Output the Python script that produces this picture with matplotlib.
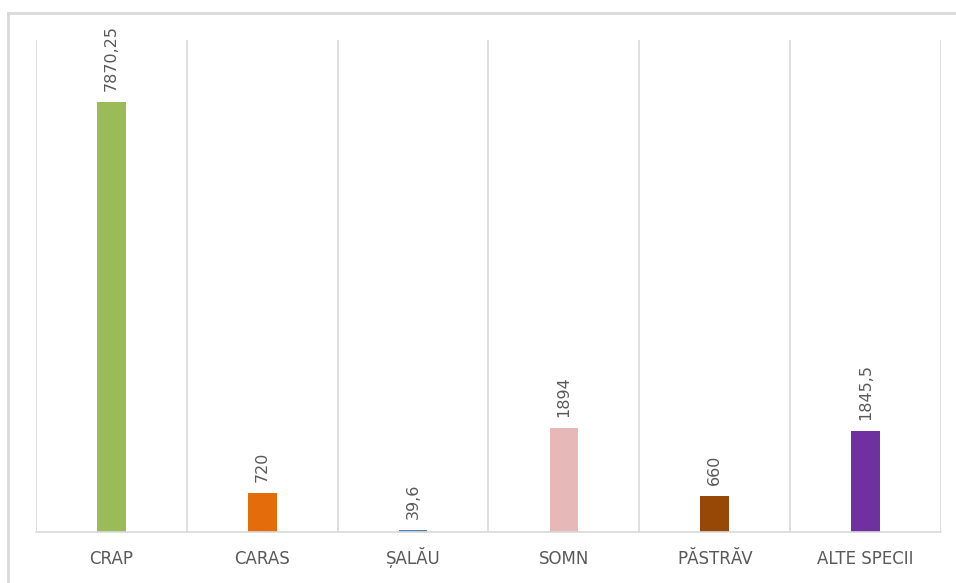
import matplotlib.pyplot as plt
from matplotlib.lines import Line2D
import numpy as np

categories = ['CRAP', 'CARAS', 'ȘALĂU', 'SOMN', 'PĂSTRĂV', 'ALTE SPECII']
values = [7870.25, 720, 39.6, 1894, 660, 1845.5]
value_labels = ['7870,25', '720', '39,6', '1894', '660', '1845,5']
colors = ['#9BBB59', '#E46C0A', '#4F81BD', '#E6B9B8', '#974706', '#7030A0']

fig = plt.figure(figsize=(9.56, 5.83), dpi=100)
ax = fig.add_axes([36/956, 1 - 532/583, (941 - 36)/956, (532 - 40)/583])

x = np.arange(len(categories))
bars = ax.bar(x, values, width=0.19, color=colors)

for rect, lab in zip(bars, value_labels):
    ax.annotate(lab, xy=(rect.get_x() + rect.get_width()/2, rect.get_height()),
                xytext=(0, 8), textcoords='offset points',
                ha='center', va='bottom', rotation=90,
                fontsize=11.5, color='#595959')

ax.set_xlim(-0.5, len(categories) - 0.5)
ax.set_ylim(0, 9000)
ax.set_xticks(x)
ax.set_xticklabels(categories, fontsize=12, color='#595959')
ax.tick_params(axis='x', length=0, pad=23)
for lbl in ax.get_xticklabels():
    lbl.set_verticalalignment('baseline')
ax.set_yticks([])

# vertical separators between categories
ax.set_xticks(np.arange(-0.5, len(categories)), minor=True)
ax.tick_params(axis='x', which='minor', length=0)
ax.grid(True, axis='x', which='minor', color='#D9D9D9', linewidth=1.2)
ax.grid(False, axis='x', which='major')

for side in ['top', 'left', 'right']:
    ax.spines[side].set_visible(False)
ax.spines['bottom'].set_color('#D9D9D9')
ax.spines['bottom'].set_linewidth(1.2)

# chart border (only top and left visible in the crop)
fig.add_artist(Line2D([8/956, 1], [1 - 13/583, 1 - 13/583], color='#D9D9D9', linewidth=2))
fig.add_artist(Line2D([8/956, 8/956], [0, 1 - 13/583], color='#D9D9D9', linewidth=2))

fig.savefig('out.png', dpi=100)
